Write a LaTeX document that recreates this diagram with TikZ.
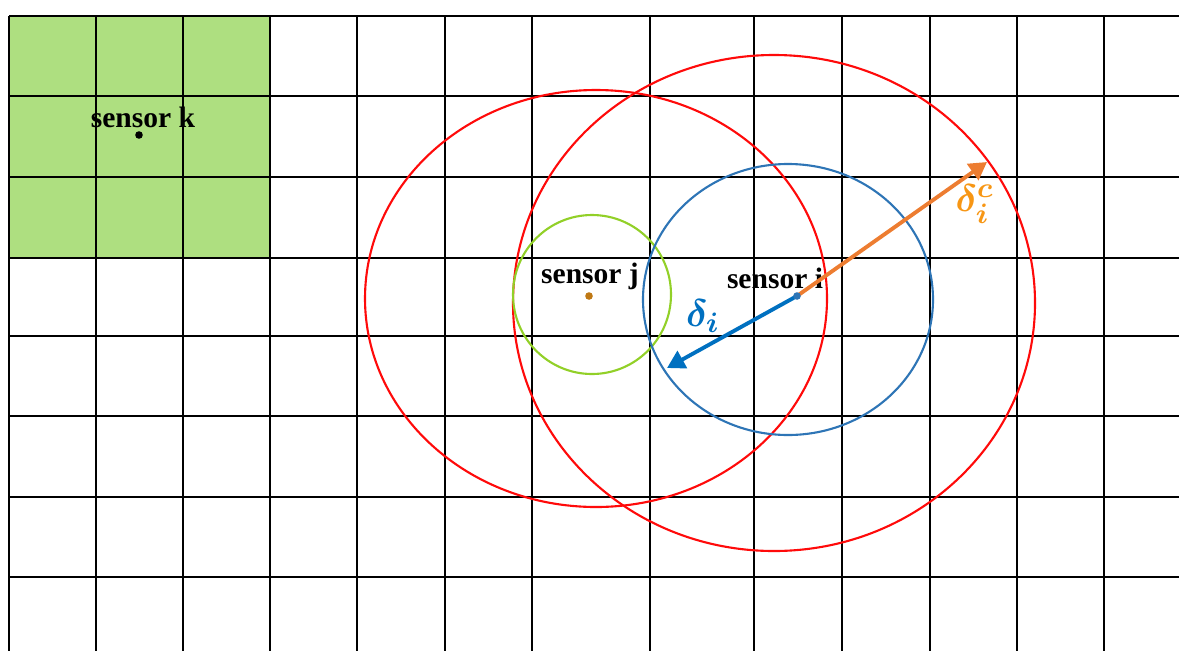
\documentclass[tikz,border=0pt]{standalone}
\usepackage{amsmath,amsbsy}
\usepackage{fontspec}
\setmainfont{Liberation Serif}
\usetikzlibrary{arrows.meta}
\definecolor{cellgreen}{RGB}{174,223,128}
\definecolor{ringred}{RGB}{255,10,10}
\definecolor{ringgreen}{RGB}{146,208,40}
\definecolor{ringblue}{RGB}{46,117,182}
\definecolor{arrblue}{RGB}{0,112,192}
\definecolor{arrorange}{RGB}{237,125,49}
\definecolor{lblorange}{RGB}{247,150,20}
\definecolor{dotbrown}{RGB}{191,120,20}
\tikzset{
  gridline/.style={black,line width=0.7pt},
  ring/.style={line width=0.6pt},
  sensorlabel/.style={font=\fontsize{8.4}{10}\selectfont\bfseries,inner sep=0pt},
  radius arrow/.style={line width=1.1pt,-{Triangle[length=5pt,width=5.5pt]}},
  deltalabel/.style={font=\fontsize{11}{13}\selectfont,inner sep=0pt}
}
\begin{document}
\begin{tikzpicture}[x=0.01cm,y=-0.01cm]
\useasboundingbox (0,0) rectangle (1179,651);
\begin{scope}
\clip (0,0) rectangle (1179,651);
% green region
\fill[cellgreen] (9,16) rectangle (270,258);
% grid
\foreach \y in {16,96,177,258,336,416,497,577}
  \draw[gridline] (9,\y) -- (1179,\y);
\foreach \x in {9,96,183,270,357,445,532,650,754,842,930,1017,1104}
  \draw[gridline] (\x,16) -- (\x,651);
% rings
\draw[ring,ringred] (596,298.5) ellipse [x radius=231,y radius=208.5];
\draw[ring,ringred] (774,303) ellipse [x radius=261,y radius=248];
\draw[ring,ringgreen] (592,294.5) ellipse [x radius=79,y radius=79.5];
\draw[ring,ringblue] (788,299.5) ellipse [x radius=145,y radius=135.5];
\end{scope}
% sensors
\coordinate (sk) at (139,135);
\coordinate (sj) at (589,296);
\coordinate (si) at (797,296);
\coordinate (ti) at (667,368);
\coordinate (tc) at (987,162);
\fill[black] (sk) circle (3.8);
\fill[dotbrown] (sj) circle (3.8);
\node[sensorlabel] (lk) at (143,117) {sensor k};
\node[sensorlabel] (lj) at (590,276) {sensor j};
\node[sensorlabel] (li) at (775,278) {sensor i};
% radius arrows
\draw[radius arrow,arrorange] (si) -- (tc);
\draw[radius arrow,arrblue] (si) -- (ti);
\fill[ringblue] (si) circle (3.8);
\node[deltalabel,text=arrblue] (di) at (703,316) {$\boldsymbol{\delta_i}$};
\node[deltalabel,text=lblorange] (dc) at (975,204) {$\boldsymbol{\delta_i^c}$};
\end{tikzpicture}
\end{document}
